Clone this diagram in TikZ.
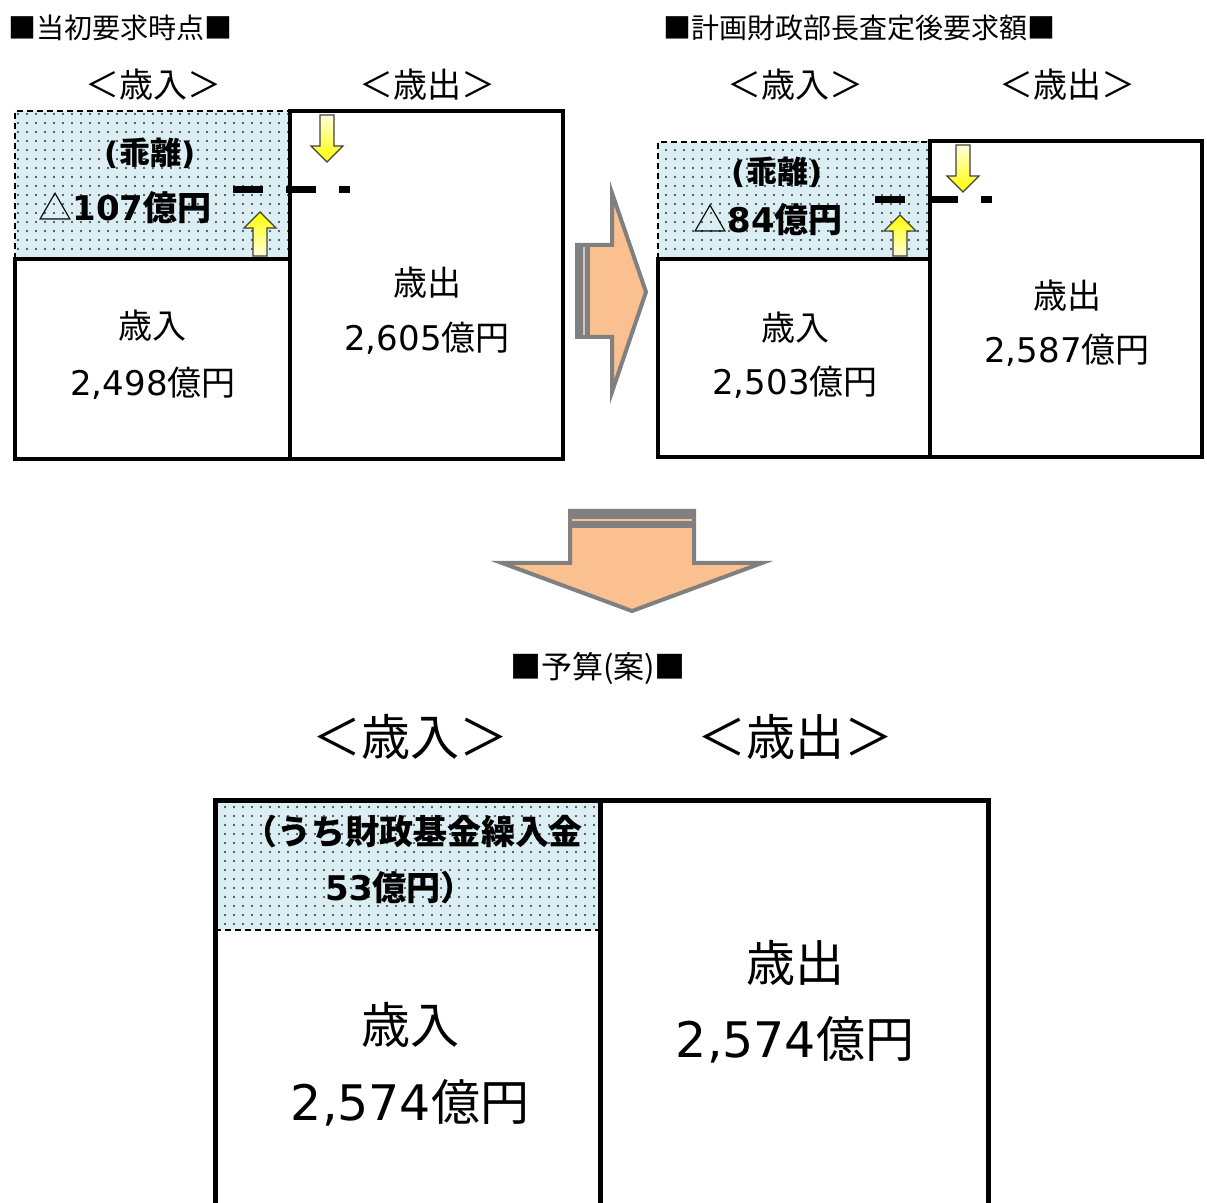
\documentclass[tikz,border=0pt]{standalone}
\usepackage{fontspec}
\setmainfont{DejaVu Sans}
\newfontfamily\jp{Noto Sans CJK JP}
\usetikzlibrary{patterns.meta}
\definecolor{gapblue}{HTML}{DAEEF3}
\definecolor{peach}{HTML}{FAC090}
\tikzset{
  box/.style={draw, line width=2pt},
  gapbox/.style={fill=gapblue, postaction={pattern={Dots[distance=4.5pt,radius=0.55pt]}, pattern color=black!80}},
  gapedge/.style={densely dashed, line width=0.6pt},
  uparrow/.style={draw=black!75, line width=0.7pt, top color=yellow, bottom color=yellow!15},
  downarrow/.style={draw=black!75, line width=0.7pt, top color=yellow!15, bottom color=yellow},
  bigarrow/.style={fill=peach, draw=black!50, line width=2pt},
  gapline/.style={line width=3.5pt, dash pattern=on 15pt off 11.5pt},
  title/.style={font=\jp\fontsize{14}{16}\selectfont, anchor=west, inner sep=0pt},
  head/.style={font=\jp\fontsize{17}{20}\selectfont},
  val/.style={font=\fontsize{17}{20}\selectfont},
  gaptext/.style={font=\bfseries\fontsize{15.5}{18}\selectfont},
  bighead/.style={font=\jp\fontsize{24.5}{28}\selectfont},
  bigval/.style={font=\fontsize{24.5}{28}\selectfont},
}
\begin{document}
\begin{tikzpicture}[x=0.5pt,y=-0.5pt]
  \useasboundingbox (0,0) rectangle (1207,1203);

  % --- initial request ---
  \node[title] (t1) at (8,28) {■当初要求時点■};
  \node[head] (h1in) at (153,85) {＜歳入＞};
  \node[head] (h1out) at (427,85) {＜歳出＞};
  \fill[gapbox] (15,111) rectangle (290,259);
  \draw[gapedge] (15,259) -- (15,111) -- (290,111);
  \draw[box] (15,259) rectangle (290,459);
  \draw[box] (290,111) rectangle (563,459);
  \node[gaptext] (g1a) at (150,153) {({\jp 乖離})};
  \node[gaptext, font=\bfseries\fontsize{17}{20}\selectfont] (g1b) at (125,208) {{\jp\mdseries △}107{\jp 億円}};
  \node[val] (r1a) at (153,326) {{\jp 歳入}};
  \node[val] (r1b) at (153,383) {2,498{\jp 億円}};
  \node[val] (e1a) at (427,283) {{\jp 歳出}};
  \node[val] (e1b) at (427,338) {2,605{\jp 億円}};
  \coordinate (lv1a) at (233,190);
  \coordinate (lv1b) at (350,190);
  \draw[gapline] (lv1a) -- (lv1b);
  \begin{scope}[shift={(260,212)}]
    \draw[uparrow] (0,0) -- (16,16) -- (7,16) -- (7,44) -- (-7,44) -- (-7,16) -- (-16,16) -- cycle;
  \end{scope}
  \begin{scope}[shift={(327,162)}]
    \draw[downarrow] (0,0) -- (16,-16) -- (7,-16) -- (7,-47) -- (-7,-47) -- (-7,-16) -- (-16,-16) -- cycle;
  \end{scope}

  % --- after assessment ---
  \node[title] (t2) at (663,28) {■計画財政部長査定後要求額■};
  \node[head] (h2in) at (795,85) {＜歳入＞};
  \node[head] (h2out) at (1067,85) {＜歳出＞};
  \fill[gapbox] (658,142) rectangle (930,259);
  \draw[gapedge] (658,259) -- (658,142) -- (930,142);
  \draw[box] (658,259) rectangle (930,457);
  \draw[box] (930,141) rectangle (1202,457);
  \node[gaptext] (g2a) at (777,172) {({\jp 乖離})};
  \node[gaptext, font=\bfseries\fontsize{17}{20}\selectfont] (g2b) at (768,220) {{\jp\mdseries △}84{\jp 億円}};
  \node[val] (r2a) at (795,328) {{\jp 歳入}};
  \node[val] (r2b) at (795,382) {2,503{\jp 億円}};
  \node[val] (e2a) at (1067,296) {{\jp 歳出}};
  \node[val] (e2b) at (1067,350) {2,587{\jp 億円}};
  \coordinate (lv2a) at (875,200);
  \coordinate (lv2b) at (992,200);
  \draw[gapline] (lv2a) -- (lv2b);
  \begin{scope}[shift={(900,215)}]
    \draw[uparrow] (0,0) -- (16,16) -- (7,16) -- (7,41) -- (-7,41) -- (-7,16) -- (-16,16) -- cycle;
  \end{scope}
  \begin{scope}[shift={(963,192)}]
    \draw[downarrow] (0,0) -- (16,-16) -- (7,-16) -- (7,-47) -- (-7,-47) -- (-7,-16) -- (-16,-16) -- cycle;
  \end{scope}

  % --- big arrows ---
  \draw[bigarrow] (577,245) -- (612,245) -- (612,193) -- (646,292) -- (612,392) -- (612,337) -- (577,337) -- cycle;
  \fill[black!50] (577,245) rectangle (590,337);
  \draw[peach!60!black!40, line width=0.6pt] (584,247) -- (584,335);
  \draw[bigarrow] (570,511) -- (694,511) -- (694,563) -- (762,563) -- (632,611) -- (502,563) -- (570,563) -- cycle;
  \fill[black!50] (570,511) rectangle (694,528);
  \draw[peach, line width=0.8pt] (572,520) -- (692,520);

  % --- budget draft ---
  \node[font=\jp\fontsize{15.5}{18}\selectfont] (t3) at (598,668) {■予算(案)■};
  \node[bighead] (h3in) at (410,737) {＜歳入＞};
  \node[bighead] (h3out) at (795,737) {＜歳出＞};
  \fill[gapbox] (215,801) rectangle (600,930);
  \draw[gapedge] (215,930) -- (600,930);
  \draw[line width=2.5pt] (215,1210) -- (215,801) -- (988,801) -- (988,1210);
  \draw[line width=2.5pt] (600,801) -- (600,1210);
  \node[font=\jp\bfseries\fontsize{17}{20}\selectfont] (g3a) at (413,832) {（うち財政基金繰入金};
  \node[font=\bfseries\fontsize{17}{20}\selectfont] (g3b) at (400,888) {53{\jp 億円）}};
  \node[bighead] (r3a) at (410,1025) {歳入};
  \node[bigval] (r3b) at (410,1103) {2,574{\jp 億円}};
  \node[bighead] (e3a) at (795,963) {歳出};
  \node[bigval] (e3b) at (795,1040) {2,574{\jp 億円}};
\end{tikzpicture}
\end{document}
